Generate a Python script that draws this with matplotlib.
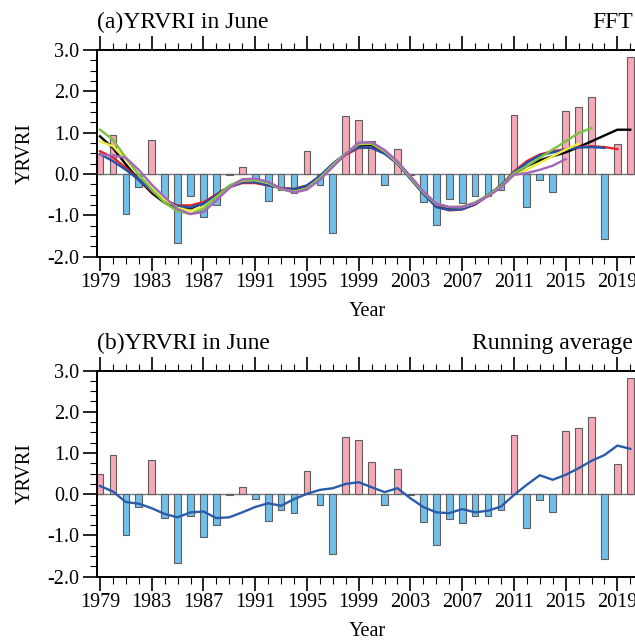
import numpy as np
import matplotlib
matplotlib.use("Agg")
import matplotlib.pyplot as plt
from matplotlib.ticker import MultipleLocator, FormatStrFormatter

years = list(range(1979, 2021))

yrvri = [0.49, 0.94, -0.98, -0.32, 0.83, -0.58, -1.67, -0.54, -1.05, -0.74,
         -0.02, 0.17, -0.11, -0.66, -0.39, -0.45, 0.56, -0.27, -1.44, 1.40,
         1.31, 0.79, -0.27, 0.60, -0.02, -0.68, -1.23, -0.60, -0.71, -0.54,
         -0.54, -0.39, 1.43, -0.81, -0.15, -0.44, 1.53, 1.61, 1.87, -1.58,
         0.73, 2.82]

# moyenne glissante (panneau b)
running_avg = [0.20, 0.065, -0.19, -0.23, -0.34, -0.48, -0.56, -0.44, -0.42, -0.58,
               -0.56, -0.44, -0.31, -0.22, -0.28, -0.12, 0.01, 0.105, 0.145, 0.25,
               0.29, 0.17, 0.05, 0.145, -0.10, -0.31, -0.44, -0.46, -0.36, -0.44,
               -0.40, -0.30, -0.02, 0.23, 0.46, 0.35, 0.47, 0.63, 0.81, 0.95,
               1.18, 1.10]

# courbes FFT (panneau a), chacune commence en 1979
fft_black = [0.91, 0.63, 0.23, -0.14, -0.46, -0.70, -0.85, -0.84, -0.70, -0.50,
             -0.30, -0.18, -0.16, -0.24, -0.35, -0.38, -0.30, -0.06, 0.23, 0.48,
             0.68, 0.70, 0.53, 0.26, -0.10, -0.46, -0.76, -0.85, -0.82, -0.70,
             -0.51, -0.28, 0.00, 0.19, 0.33, 0.43, 0.52, 0.65, 0.79, 0.93,
             1.07, 1.07]
fft_red = [0.55, 0.40, 0.15, -0.14, -0.42, -0.64, -0.76, -0.76, -0.68, -0.50,
           -0.32, -0.22, -0.22, -0.28, -0.34, -0.36, -0.28, -0.06, 0.23, 0.46,
           0.63, 0.63, 0.50, 0.25, -0.10, -0.47, -0.79, -0.88, -0.86, -0.74,
           -0.53, -0.28, 0.06, 0.31, 0.47, 0.55, 0.60, 0.65, 0.67, 0.65,
           0.60]
fft_blue = [0.48, 0.31, 0.10, -0.14, -0.40, -0.62, -0.78, -0.81, -0.72, -0.52,
            -0.32, -0.20, -0.20, -0.27, -0.35, -0.37, -0.28, -0.05, 0.25, 0.50,
            0.64, 0.63, 0.49, 0.25, -0.12, -0.48, -0.80, -0.87, -0.85, -0.73,
            -0.52, -0.28, 0.04, 0.27, 0.45, 0.52, 0.59, 0.64, 0.65, 0.63]
fft_yellow = [0.79, 0.67, 0.35, -0.02, -0.35, -0.62, -0.82, -0.89, -0.80, -0.56,
              -0.30, -0.16, -0.15, -0.22, -0.36, -0.43, -0.35, -0.10, 0.21, 0.50,
              0.72, 0.73, 0.55, 0.27, -0.08, -0.44, -0.73, -0.80, -0.80, -0.70,
              -0.52, -0.30, -0.04, 0.10, 0.27, 0.43, 0.59, 0.73]
fft_green = [1.07, 0.83, 0.39, -0.02, -0.38, -0.70, -0.90, -0.97, -0.84, -0.56,
             -0.28, -0.14, -0.14, -0.21, -0.37, -0.44, -0.36, -0.11, 0.20, 0.50,
             0.74, 0.74, 0.56, 0.28, -0.08, -0.44, -0.72, -0.80, -0.79, -0.69,
             -0.52, -0.30, 0.02, 0.19, 0.39, 0.59, 0.79, 0.99, 1.11]
fft_purple = [0.46, 0.45, 0.39, 0.10, -0.26, -0.56, -0.85, -0.97, -0.92, -0.64,
              -0.34, -0.13, -0.11, -0.19, -0.35, -0.45, -0.38, -0.14, 0.17, 0.48,
              0.76, 0.77, 0.58, 0.30, -0.05, -0.42, -0.72, -0.80, -0.80, -0.70,
              -0.54, -0.33, -0.02, 0.02, 0.10, 0.20, 0.36]

fft_lines = [(fft_black, "black"), (fft_red, "#e8232b"), (fft_blue, "#2152a8"),
             (fft_yellow, "#ecec3c"), (fft_green, "#7dc143"), (fft_purple, "#a566be")]

xtick_years = list(range(1979, 2021, 4))

plt.rcParams['font.family'] = ['Liberation Serif', 'DejaVu Serif']
plt.rcParams['axes.unicode_minus'] = False

PINK = "#f6a9b7"
BLUE = "#72c0e9"


def style_axes(ax):
    ax.set_xlim(1978.77, 2020.5)
    ax.set_ylim(-2.0, 3.0)
    ax.set_xticks(xtick_years)
    ax.xaxis.set_minor_locator(MultipleLocator(1))
    ax.yaxis.set_major_locator(MultipleLocator(1.0))
    ax.yaxis.set_minor_locator(MultipleLocator(0.25))
    ax.yaxis.set_major_formatter(FormatStrFormatter('%.1f'))
    ax.tick_params(which='both', direction='out', top=True, right=True, width=1.2)
    ax.tick_params(which='major', length=10, labelsize=14.5)
    ax.tick_params(axis='x', which='major', pad=2)
    ax.tick_params(axis='y', which='major', pad=3)
    ax.tick_params(which='minor', length=5, width=0.8)
    for s in ax.spines.values():
        s.set_linewidth(1.4)
    ax.set_xlabel("Year", fontsize=14.5, labelpad=7)
    ax.set_ylabel("YRVRI", fontsize=14.5, labelpad=9)


def draw_bars(ax):
    colors = [PINK if v > 0 else BLUE for v in yrvri]
    ax.bar(years, yrvri, width=0.52, color=colors, edgecolor="#5e5e5e", linewidth=0.8, zorder=2)
    ax.axhline(0, color="#7a7a7a", linewidth=1.0, zorder=1)


fig = plt.figure(figsize=(6.35, 6.4), dpi=100)
ax1 = fig.add_axes([0.1528, 0.599, 0.850, 0.323])
ax2 = fig.add_axes([0.1528, 0.099, 0.850, 0.322])

# (a) FFT
draw_bars(ax1)
for vals, c in fft_lines:
    ax1.plot(years[:len(vals)], vals, color=c, linewidth=1.7, zorder=3)
style_axes(ax1)
ax1.text(0.0, 1.105, "(a)YRVRI in June", transform=ax1.transAxes, fontsize=17,
         ha='left', va='baseline')
ax1.text(0.993, 1.105, "FFT", transform=ax1.transAxes, fontsize=17,
         ha='right', va='baseline')

# (b) moyenne glissante
draw_bars(ax2)
ax2.plot(years, running_avg, color="#2a5caa", linewidth=1.7, zorder=3)
style_axes(ax2)
ax2.text(0.0, 1.105, "(b)YRVRI in June", transform=ax2.transAxes, fontsize=17,
         ha='left', va='baseline')
ax2.text(0.993, 1.105, "Running average", transform=ax2.transAxes, fontsize=17,
         ha='right', va='baseline')

fig.savefig("out.png", dpi=100)
